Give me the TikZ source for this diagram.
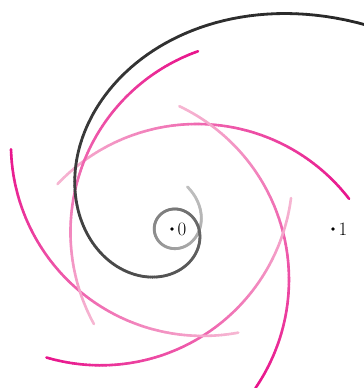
\documentclass[tikz,border=0pt]{standalone}
\usepackage{tikz}
\definecolor{pdeep}{RGB}{232,20,140}
\definecolor{plight}{RGB}{246,182,210}
\tikzset{
  pinkline/.style={line width=2.6bp, line cap=round},
  spiralline/.style={line width=2.8bp, line cap=round},
  dotmark/.style={circle, fill=black, inner sep=0pt, minimum size=3.8bp},
  numlabel/.style={anchor=west, inner sep=0pt, font=\fontsize{19}{22}\selectfont}
}
\begin{document}
\begin{tikzpicture}[x=1bp, y=-1bp,
  declare function={sr(\x)=14+12.76*exp(0.0097*\x)+0.177*exp(-0.012*\x);}]
\path[use as bounding box] (0,0) rectangle (364,388);
\clip (0,0) rectangle (364,388);
% five rotated pink arcs
\foreach \k in {0,...,4}{
  \pgfmathsetmacro{\arcx}{172+25*cos(72*\k)-87*sin(72*\k)}
  \pgfmathsetmacro{\arcy}{229+25*sin(72*\k)+87*cos(72*\k)}
  \foreach \j in {0,...,98}{
    \pgfmathsetmacro{\angA}{-37.6-\j+72*\k}
    \pgfmathsetmacro{\angB}{\angA-1}
    \pgfmathsetmacro{\pc}{100*\j/98}
    \draw[pinkline, color=plight!\pc!pdeep]
      ({\arcx+192*cos(\angA)},{\arcy+192*sin(\angA)}) --
      ({\arcx+192*cos(\angB)},{\arcy+192*sin(\angB)});
  }
}
% gray spiral
\foreach \i in {0,...,374}{
  \pgfmathsetmacro{\phA}{-430+2*\i}
  \pgfmathsetmacro{\phB}{\phA+2}
  \pgfmathsetmacro{\grayp}{25+(\phA+430)*0.08}
  \draw[spiralline, color=black!\grayp]
    ({172+sr(\phA)*cos(\phA)},{229+sr(\phA)*sin(\phA)}) --
    ({172+sr(\phB)*cos(\phB)},{229+sr(\phB)*sin(\phB)});
}
% points
\node[dotmark] (p0) at (172,229) {};
\node[numlabel] (l0) at (177.5,229) {0};
\node[dotmark] (p1) at (333,229) {};
\node[numlabel] (l1) at (338.5,229) {1};
\end{tikzpicture}
\end{document}
